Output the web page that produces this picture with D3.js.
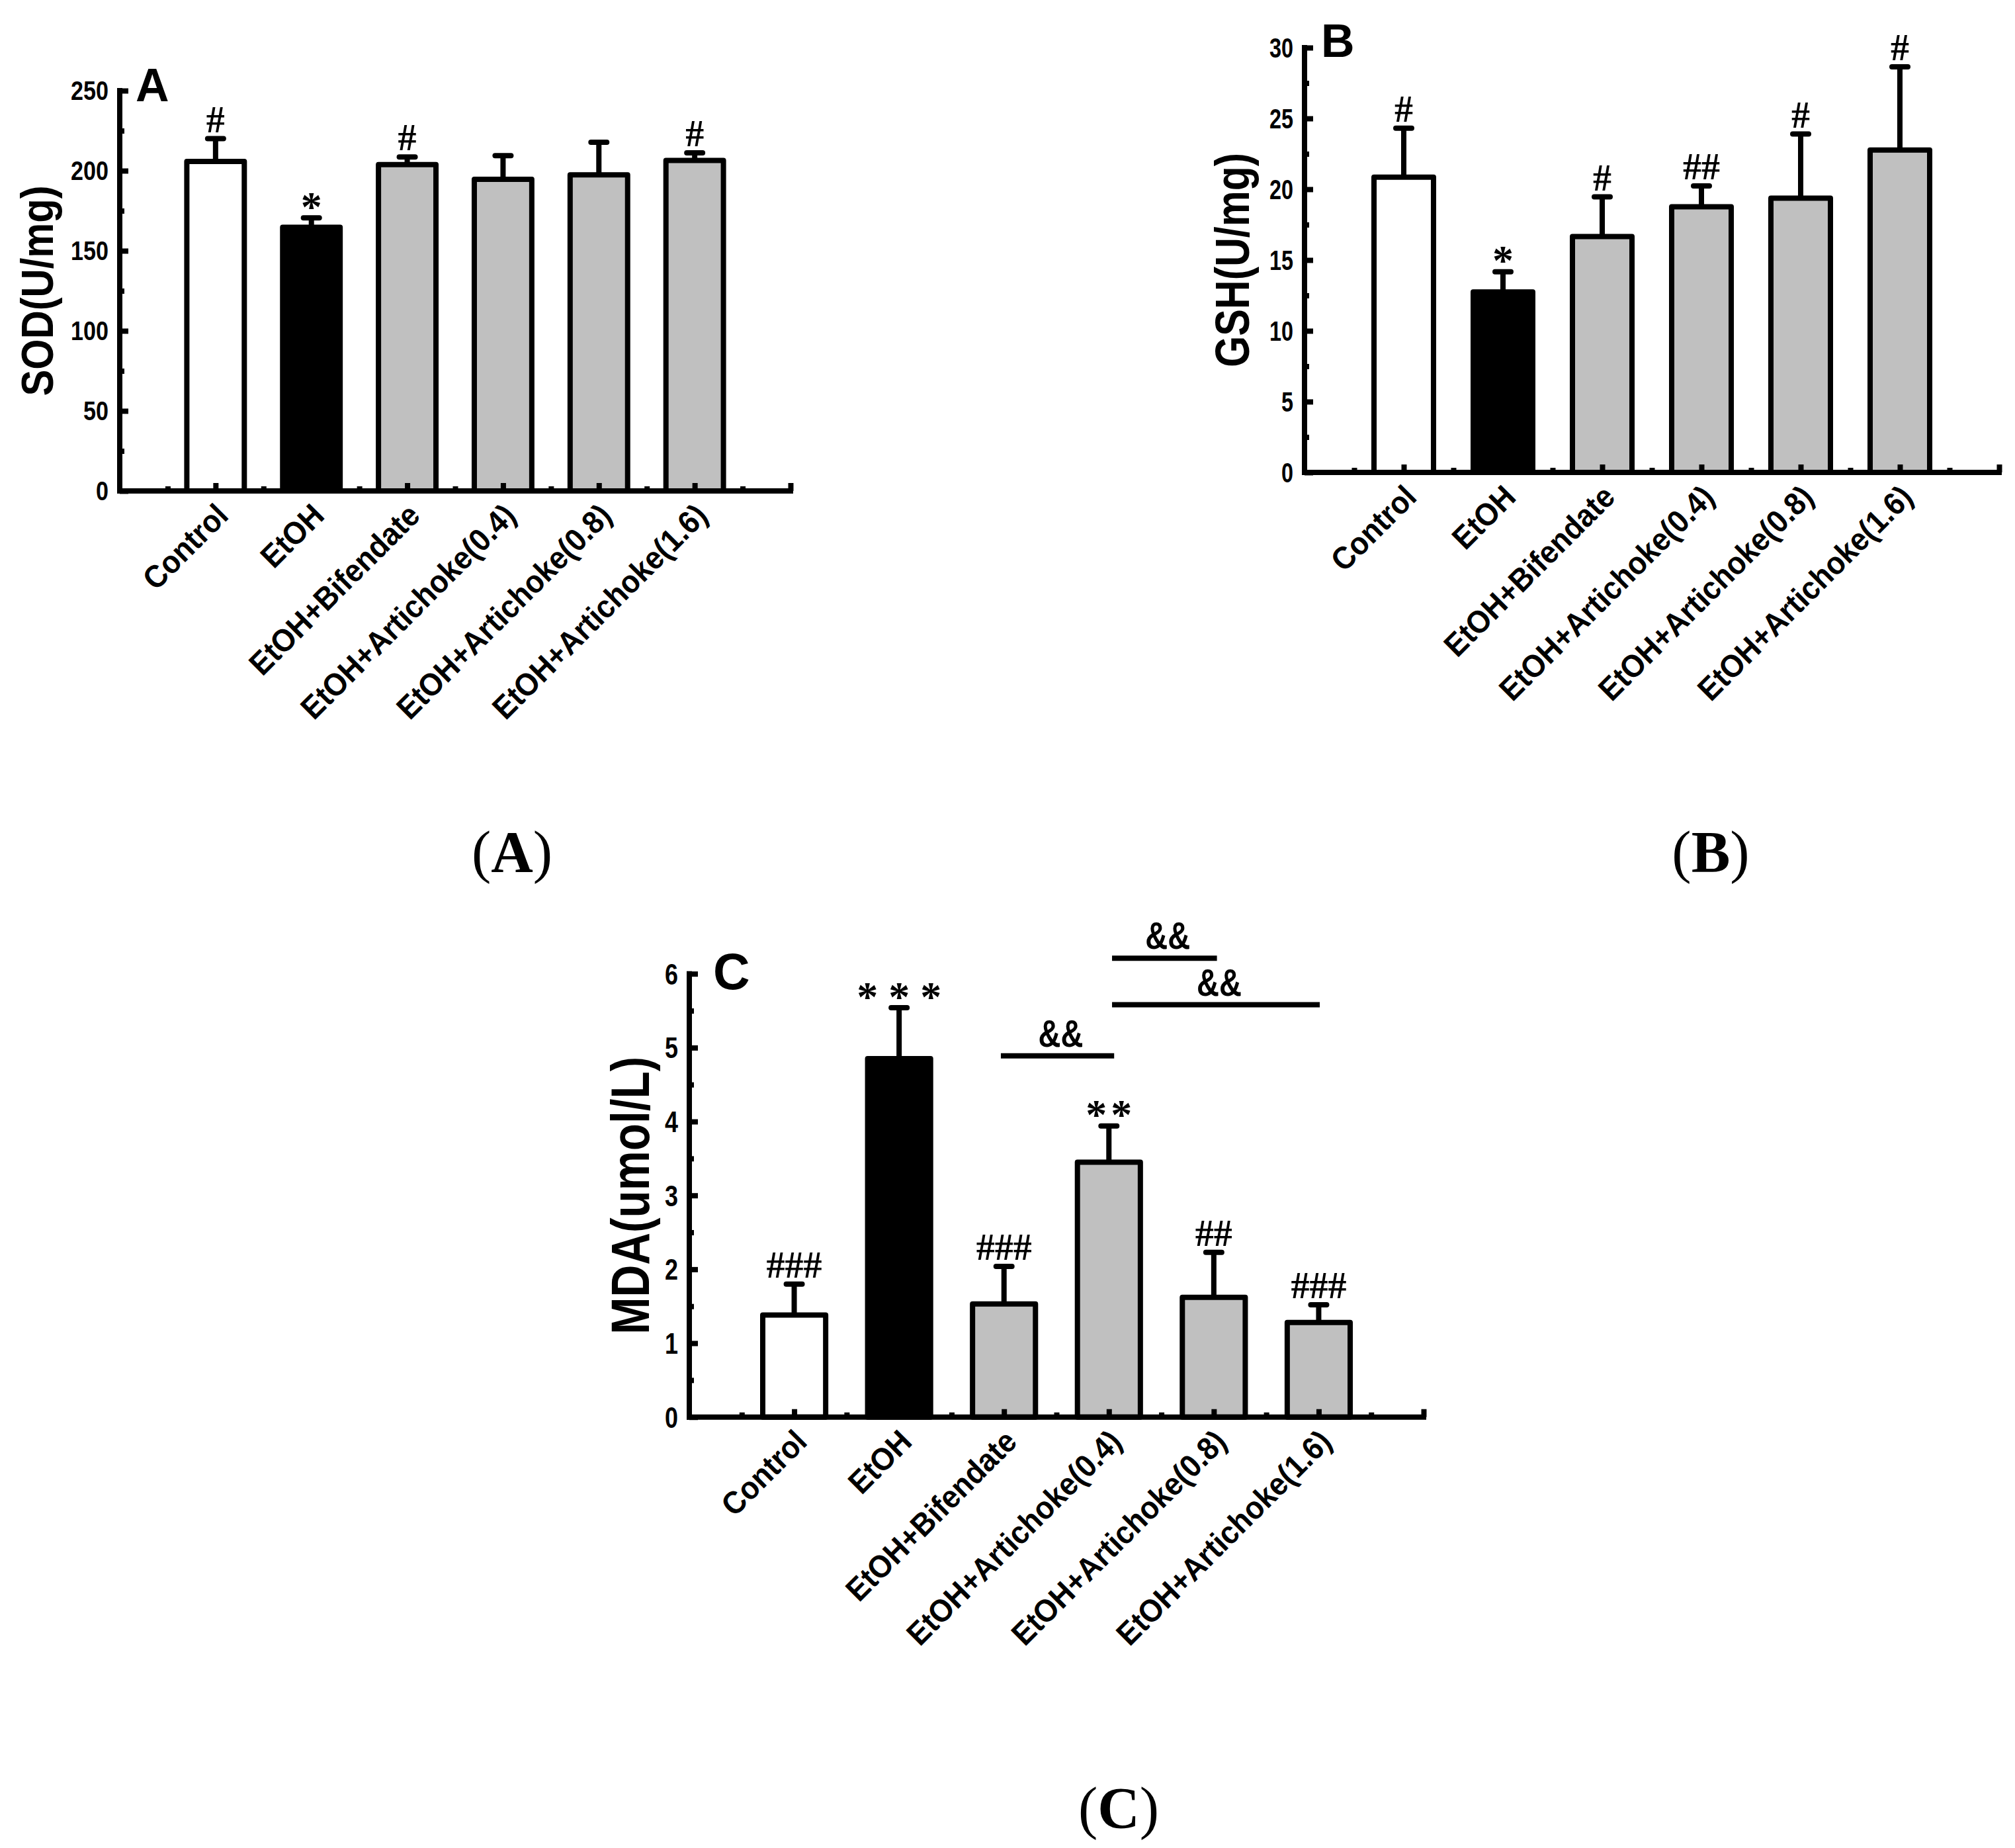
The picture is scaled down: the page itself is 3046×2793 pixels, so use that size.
<!DOCTYPE html>
<html>
<head>
<meta charset="utf-8">
<script src="https://cdn.jsdelivr.net/npm/d3@7"></script>
<style>
  html, body { margin: 0; padding: 0; background: #fff; }
  svg { display: block; }
</style>
</head>
<body>
<script>
// ---------------- DATA ----------------
const categories = ["Control", "EtOH", "EtOH+Bifendate", "EtOH+Artichoke(0.4)", "EtOH+Artichoke(0.8)", "EtOH+Artichoke(1.6)"];

const sodMean = [205.8, 164.7, 203.8, 194.6, 197.4, 206.4];
const sodErr  = [14.2, 5.9, 4.8, 14.8, 20.4, 4.8];
const sodSig  = ["#", "*", "#", "", "", "#"];
const sodTicks = [0, 50, 100, 150, 200, 250];

const gshMean = [20.85, 12.74, 16.66, 18.76, 19.37, 22.77];
const gshErr  = [3.46, 1.43, 2.80, 1.47, 4.53, 5.87];
const gshSig  = ["#", "*", "#", "##", "#", "#"];
const gshTicks = [0, 5, 10, 15, 20, 25, 30];

const mdaMean = [1.38, 4.85, 1.53, 3.45, 1.62, 1.28];
const mdaErr  = [0.42, 0.69, 0.51, 0.49, 0.61, 0.24];
const mdaSig  = ["###", "***", "###", "**", "##", "###"];
const mdaTicks = [0, 1, 2, 3, 4, 5, 6];
// comparison brackets in panel C (x in category positions, 1-based; y in data units)
const mdaBrackets = [
  { x1: 2.97, x2: 4.05, y: 4.89, label: "&&" },
  { x1: 4.03, x2: 5.03, y: 6.21, label: "&&" },
  { x1: 4.03, x2: 6.01, y: 5.58, label: "&&" }
];

// ---------------- STYLE ----------------
const barFills = ["#ffffff", "#000000", "#c0c0c0", "#c0c0c0", "#c0c0c0", "#c0c0c0"];
const SANS = "'Liberation Sans', Arial, Helvetica, sans-serif";
const SERIF = "'Liberation Serif', 'Times New Roman', Times, serif";

const W = 3046, H = 2793;
const svg = d3.select("body").append("svg")
  .attr("width", W).attr("height", H)
  .attr("viewBox", `0 0 ${W} ${H}`);
svg.append("rect").attr("width", W).attr("height", H).attr("fill", "#fff");

function drawPanel(cfg, means, errs, sigs, ticks, minorStep, brackets) {
  const g = svg.append("g");
  const x = d3.scaleLinear().domain([0, 7]).range([cfg.x0, cfg.x7]);
  const y = d3.scaleLinear().domain([0, ticks[ticks.length - 1]]).range([cfg.yBot, cfg.yTop]);
  const halfW = 0.3;
  const LW = 8;

  // bars
  g.selectAll("rect.bar").data(means).enter().append("rect")
    .attr("class", "bar")
    .attr("x", (d, i) => x(i + 1 - halfW))
    .attr("width", (d, i) => x(i + 1 + halfW) - x(i + 1 - halfW))
    .attr("y", d => y(d))
    .attr("height", d => y(0) - y(d))
    .attr("fill", (d, i) => barFills[i])
    .attr("stroke", "#000")
    .attr("stroke-width", LW)
    .attr("stroke-linejoin", "round");

  // error bars
  g.selectAll("line.err").data(means).enter().append("line")
    .attr("x1", (d, i) => x(i + 1)).attr("x2", (d, i) => x(i + 1))
    .attr("y1", d => y(d))
    .attr("y2", (d, i) => y(d + errs[i]))
    .attr("stroke", "#000").attr("stroke-width", LW);
  g.selectAll("line.cap").data(means).enter().append("line")
    .attr("x1", (d, i) => x(i + 1) - 12).attr("x2", (d, i) => x(i + 1) + 12)
    .attr("y1", (d, i) => y(d + errs[i]))
    .attr("y2", (d, i) => y(d + errs[i]))
    .attr("stroke", "#000").attr("stroke-width", LW).attr("stroke-linecap", "round");

  // y axis ticks (inward)
  const ymax = ticks[ticks.length - 1];
  const minorVals = d3.range(minorStep / 2, ymax, minorStep);
  const yMajor = g.append("g").attr("transform", `translate(${cfg.x0},0)`)
    .call(d3.axisRight(y).tickValues(ticks).tickSize(13).tickFormat(""));
  const yMinor = g.append("g").attr("transform", `translate(${cfg.x0},0)`)
    .call(d3.axisRight(y).tickValues(minorVals).tickSize(7).tickFormat(""));
  [yMajor, yMinor].forEach(a => {
    a.select(".domain").remove();
    a.selectAll("line").attr("stroke", "#000").attr("stroke-width", 8);
  });

  // x axis ticks (inward, up)
  const xMajor = g.append("g").attr("transform", `translate(0,${cfg.yBot})`)
    .call(d3.axisTop(x).tickValues([1, 2, 3, 4, 5, 6, 7]).tickSize(12).tickFormat(""));
  const xMinor = g.append("g").attr("transform", `translate(0,${cfg.yBot})`)
    .call(d3.axisTop(x).tickValues([0.5, 1.5, 2.5, 3.5, 4.5, 5.5, 6.5]).tickSize(7).tickFormat(""));
  [xMajor, xMinor].forEach(a => {
    a.select(".domain").remove();
    a.selectAll("line").attr("stroke", "#000").attr("stroke-width", 8);
  });

  // axis lines
  g.append("line").attr("x1", cfg.x0).attr("x2", cfg.x0)
    .attr("y1", y(ymax) - 4).attr("y2", y(0) + 4)
    .attr("stroke", "#000").attr("stroke-width", LW);
  g.append("line").attr("x1", cfg.x0 - 4).attr("x2", x(7) + 4)
    .attr("y1", y(0)).attr("y2", y(0))
    .attr("stroke", "#000").attr("stroke-width", LW);

  // y tick labels
  g.selectAll("text.ytick").data(ticks).enter().append("text")
    .attr("x", cfg.x0 - 17)
    .attr("y", d => y(d) + cfg.tickFs * 0.36)
    .attr("text-anchor", "end")
    .attr("font-family", SANS).attr("font-weight", "bold")
    .attr("font-size", cfg.tickFs)
    .attr("textLength", d => String(d).length * cfg.digitW)
    .attr("lengthAdjust", "spacingAndGlyphs")
    .text(d => d);

  // category labels (taller, slightly condensed glyphs)
  const cats = g.selectAll("text.cat").data(categories).enter().append("text")
    .attr("transform", (d, i) => `translate(${x(i + 1) + 22},${y(0) + 40}) rotate(-45)`)
    .attr("text-anchor", "end")
    .attr("font-family", SANS).attr("font-weight", "bold")
    .attr("font-size", 48)
    .text(d => d);
  cats.each(function () {
    const len = this.getComputedTextLength();
    d3.select(this).attr("textLength", len * 0.93).attr("lengthAdjust", "spacingAndGlyphs");
  });

  // y title
  g.append("text")
    .attr("transform", `translate(${cfg.titleX},${(y(0) + y(ymax)) / 2}) rotate(-90)`)
    .attr("text-anchor", "middle")
    .attr("font-family", SANS).attr("font-weight", "bold")
    .attr("font-size", cfg.titleFs)
    .attr("textLength", cfg.titleLen)
    .attr("lengthAdjust", "spacingAndGlyphs")
    .text(cfg.title);

  // panel letter
  g.append("text")
    .attr("x", cfg.letterX).attr("y", cfg.letterY)
    .attr("font-family", SANS).attr("font-weight", "bold")
    .attr("font-size", cfg.letterFs)
    .text(cfg.letter);

  // significance marks
  g.selectAll("text.sig").data(sigs).enter().append("text")
    .attr("x", (d, i) => x(i + 1))
    .attr("y", (d, i) => {
      const capY = y(means[i] + errs[i]);
      return d.startsWith("*") ? capY - 12 + 0.26 * 64 : capY - 10;
    })
    .attr("text-anchor", "middle")
    .attr("font-family", SERIF).attr("font-weight", "bold")
    .attr("font-size", d => d.startsWith("*") ? 64 : 56)
    .attr("letter-spacing", d => d.startsWith("*") ? (d.length > 2 ? 16 : 6) : 0)
    .attr("dx", d => d.startsWith("*") ? (d.length > 2 ? 8 : 3) : 0)
    .text(d => d);

  // brackets
  if (brackets) {
    g.selectAll("line.br").data(brackets).enter().append("line")
      .attr("x1", d => x(d.x1)).attr("x2", d => x(d.x2))
      .attr("y1", d => y(d.y)).attr("y2", d => y(d.y))
      .attr("stroke", "#000").attr("stroke-width", LW);
    g.selectAll("text.br").data(brackets).enter().append("text")
      .attr("x", d => (x(d.x1) + x(d.x2)) / 2 + 5)
      .attr("y", d => y(d.y) - 14)
      .attr("text-anchor", "middle")
      .attr("font-family", SANS).attr("font-weight", "bold")
      .attr("font-size", 57)
      .attr("textLength", 68)
      .attr("lengthAdjust", "spacingAndGlyphs")
      .text(d => d.label);
  }

  // caption
  const cap = svg.append("text")
    .attr("x", cfg.capX).attr("y", cfg.capY)
    .attr("text-anchor", "middle")
    .attr("font-family", SERIF)
    .attr("font-size", 88);
  cap.append("tspan").text("(");
  cap.append("tspan").attr("font-weight", "bold").text(cfg.letter);
  cap.append("tspan").text(")");
}

drawPanel({
  x0: 181, x7: 1195, yBot: 742, yTop: 137,
  tickFs: 40, digitW: 19,
  title: "SOD(U/mg)", titleX: 80, titleFs: 69, titleLen: 318,
  letter: "A", letterX: 205, letterY: 153, letterFs: 70,
  capX: 774, capY: 1317
}, sodMean, sodErr, sodSig, sodTicks, 50, null);

drawPanel({
  x0: 1972, x7: 3022, yBot: 714, yTop: 72,
  tickFs: 42, digitW: 18,
  title: "GSH(U/mg)", titleX: 1888, titleFs: 72, titleLen: 324,
  letter: "B", letterX: 1997, letterY: 86, letterFs: 70,
  capX: 2586, capY: 1317
}, gshMean, gshErr, gshSig, gshTicks, 5, null);

drawPanel({
  x0: 1042, x7: 2152, yBot: 2141.7, yTop: 1471.7,
  tickFs: 44, digitW: 20,
  title: "MDA(umol/L)", titleX: 981, titleFs: 82, titleLen: 420,
  letter: "C", letterX: 1078, letterY: 1495, letterFs: 77,
  capX: 1691, capY: 2762
}, mdaMean, mdaErr, mdaSig, mdaTicks, 1, mdaBrackets);
</script>
</body>
</html>
